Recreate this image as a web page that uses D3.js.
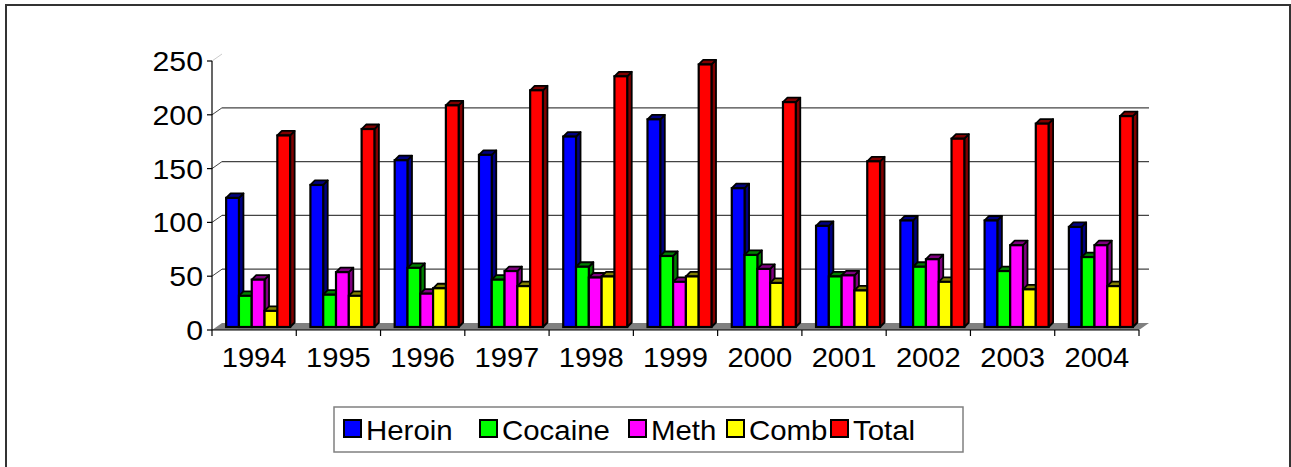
<!DOCTYPE html>
<html>
<head>
<meta charset="utf-8">
<script src="https://cdn.jsdelivr.net/npm/d3@7"></script>
<style>
  body { margin: 0; background: #fff; }
</style>
</head>
<body>
<div id="chart"></div>
<script>
// chart data
const years = ['1994', '1995', '1996', '1997', '1998', '1999', '2000', '2001', '2002', '2003', '2004'];
const seriesNames = ['Heroin', 'Cocaine', 'Meth', 'Comb', 'Total'];
const heroin  = [120, 132, 155, 160, 177, 193, 129, 94, 99, 99, 93];
const cocaine = [29, 30, 55, 44, 56, 66, 67, 47, 56, 52, 65];
const meth    = [44, 51, 31, 52, 46, 42, 54, 48, 63, 76, 76];
const comb    = [15, 29, 36, 38, 47, 47, 41, 34, 42, 35, 38];
const total   = [178, 184, 206, 220, 233, 244, 209, 154, 175, 189, 196];
const yTicks  = [0, 50, 100, 150, 200, 250];

const faceColors = ['#0000ff', '#00ff00', '#ff00ff', '#ffff00', '#ff0000'];
const darkColors = ['#000080', '#008000', '#800080', '#808000', '#800000'];
const values = [heroin, cocaine, meth, comb, total];
const FONT = "'Liberation Sans', Arimo, Arial, Helvetica, sans-serif";

function initChart(sel) {
    return d3.select(sel).append('svg')
        .attr('width', 1291)
        .attr('height', 467)
        .attr('font-family', FONT);
}

function stretch(textSel, k) {
    // text in the source is drawn a bit wider than normal Arial
    textSel.each(function() {
        let t = d3.select(this),
            x = +t.attr('x'), y = +t.attr('y');
        t.attr('transform', `translate(${x},${y}) scale(${k},1) translate(${-x},${-y})`);
    });
}

let svg = initChart('#chart');

// outer frame
svg.append('rect')
    .attr('x', 6).attr('y', 5)
    .attr('width', 1284).attr('height', 470)
    .attr('fill', 'none')
    .attr('stroke', '#333')
    .attr('stroke-width', 2);

let left = 212, right = 1139,
    wallDx = 10, wallDy = -7;

let x = d3.scaleBand().domain(years).range([left, right]);
let y = d3.scaleLinear().domain([0, 250]).range([330, 61]);

// floor
svg.append('polygon')
    .attr('points', [[left, y(0)], [right, y(0)], [right + wallDx, y(0) + wallDy], [left + wallDx, y(0) + wallDy]].join(' '))
    .attr('fill', '#808080');

// back wall grid lines
svg.append('g')
    .selectAll('line')
    .data(yTicks.filter(d => d > 0 && d < 250))
    .enter().append('line')
    .attr('x1', left + wallDx).attr('x2', right + wallDx)
    .attr('y1', d => y(d) + wallDy).attr('y2', d => y(d) + wallDy)
    .attr('stroke', '#444')
    .attr('stroke-width', 1.2);

// diagonal connectors on the side wall
svg.append('g')
    .selectAll('line')
    .data(yTicks.filter(d => d > 0))
    .enter().append('line')
    .attr('x1', left).attr('x2', left + wallDx)
    .attr('y1', d => y(d)).attr('y2', d => y(d) + wallDy)
    .attr('stroke', d => d === 250 ? '#ccc' : '#444')
    .attr('stroke-width', 1);

// axes
let axes = svg.append('g').attr('stroke', '#000').attr('stroke-width', 1.2);
axes.append('line').attr('x1', left).attr('x2', left).attr('y1', y(250)).attr('y2', y(0));
axes.append('line').attr('x1', left).attr('x2', right).attr('y1', y(0)).attr('y2', y(0));
axes.selectAll('.yt').data(yTicks).enter().append('line')
    .attr('x1', left - 5).attr('x2', left)
    .attr('y1', d => y(d)).attr('y2', d => y(d));
axes.selectAll('.xt').data(years.concat(['end'])).enter().append('line')
    .attr('x1', d => d === 'end' ? right : x(d))
    .attr('x2', d => d === 'end' ? right : x(d))
    .attr('y1', y(0)).attr('y2', y(0) + 6);

// y labels
let yLabels = svg.append('g').selectAll('text')
    .data(yTicks)
    .enter().append('text')
    .attr('x', 203)
    .attr('y', d => y(d))
    .attr('dy', '0.36em')
    .attr('text-anchor', 'end')
    .attr('font-size', 28)
    .text(d => d);
stretch(yLabels, 1.08);

// x labels
let xLabels = svg.append('g').selectAll('text')
    .data(years)
    .enter().append('text')
    .attr('x', d => x(d) + x.bandwidth() / 2)
    .attr('y', 367)
    .attr('text-anchor', 'middle')
    .attr('font-size', 28)
    .text(d => d);
stretch(xLabels, 1.04);

// bars (3D look: front, top and right side)
let barShift = 4, barLift = -3, depth = 4.5;
let items = [];
years.forEach((yr, i) => {
    let c = x(yr) + x.bandwidth() / 2;
    let inner = d3.scaleBand().domain(seriesNames).range([c - 32, c + 32]);
    seriesNames.forEach((s, j) => {
        items.push({ year: yr, series: j, value: values[j][i], x: inner(s) + barShift, w: inner.bandwidth() });
    });
});

let barGroups = svg.append('g')
    .selectAll('g')
    .data(items)
    .enter().append('g');

barGroups.append('polygon')
    .attr('points', d => {
        let yt = y(d.value) + barLift, yb = y(0) + barLift;
        return [[d.x + d.w, yt], [d.x + d.w + depth, yt - depth], [d.x + d.w + depth, yb - depth], [d.x + d.w, yb]].join(' ');
    })
    .attr('fill', d => darkColors[d.series])
    .attr('stroke', '#000').attr('stroke-width', 1.8).attr('stroke-linejoin', 'round');

barGroups.append('polygon')
    .attr('points', d => {
        let yt = y(d.value) + barLift;
        return [[d.x, yt], [d.x + depth, yt - depth], [d.x + d.w + depth, yt - depth], [d.x + d.w, yt]].join(' ');
    })
    .attr('fill', d => darkColors[d.series])
    .attr('stroke', '#000').attr('stroke-width', 1.8).attr('stroke-linejoin', 'round');

barGroups.append('rect')
    .attr('x', d => d.x)
    .attr('y', d => y(d.value) + barLift)
    .attr('width', d => d.w)
    .attr('height', d => y(0) - y(d.value))
    .attr('fill', d => faceColors[d.series])
    .attr('stroke', '#000').attr('stroke-width', 2.2);

// legend
let legend = svg.append('g');
legend.append('rect')
    .attr('x', 334).attr('y', 407)
    .attr('width', 629).attr('height', 45)
    .attr('fill', '#fff')
    .attr('stroke', '#808080').attr('stroke-width', 1.5);

let legendX = [344, 480, 629, 727, 831];
let legendItems = legend.selectAll('g.item')
    .data(seriesNames)
    .enter().append('g').attr('class', 'item');

legendItems.append('rect')
    .attr('x', (d, i) => legendX[i]).attr('y', 420)
    .attr('width', 17).attr('height', 17)
    .attr('fill', (d, i) => faceColors[i])
    .attr('stroke', '#000').attr('stroke-width', 2);

let legendText = legendItems.append('text')
    .attr('x', (d, i) => legendX[i] + 22)
    .attr('y', 440)
    .attr('font-size', 27.5)
    .text(d => d);
stretch(legendText, 1.07);
</script>
</body>
</html>
